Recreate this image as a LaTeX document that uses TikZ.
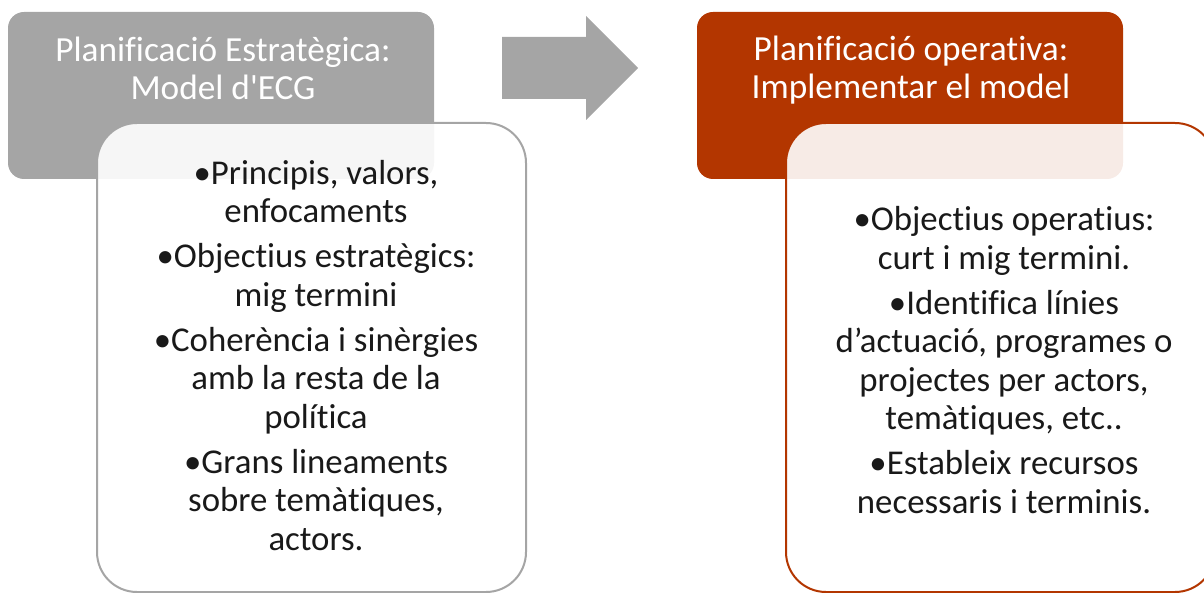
\documentclass[tikz,border=0pt]{standalone}
\usepackage{fontspec}
\setmainfont{Carlito}[Ligatures={TeXOff,CommonOff}]
\definecolor{accgray}{HTML}{A5A5A5}
\definecolor{accred}{HTML}{B33600}
\begin{document}
\begin{tikzpicture}[x=1pt,y=-1pt,
  headbox/.style={rectangle, rounded corners=16pt, minimum width=426pt, minimum height=167pt, inner sep=0pt},
  bodybox/.style={rectangle, rounded corners=40pt, minimum width=429pt, minimum height=469pt, inner sep=0pt, line width=2pt, fill=white, fill opacity=0.9},
  headtext/.style={text=white, align=center, anchor=base, inner sep=0pt, font=\fontsize{35.3}{38}\selectfont},
  bodytext/.style={text=black!90, align=center, anchor=base, inner sep=0pt, font=\fontsize{34.8}{38.5}\selectfont}
]
\useasboundingbox (0,0) rectangle (1204,593);
\clip (0,0) rectangle (1204,593);
% header boxes
\node[headbox, fill=accgray] (hleft) at (221,95.5) {};
\node[headbox, fill=accred] (hright) at (910,95.5) {};
% arrow
\fill[accgray] (502,37) -- (586,37) -- (586,16) -- (638,68) -- (586,120) -- (586,99) -- (502,99) -- cycle;
% body boxes
\node[bodybox, draw=accgray] (bleft) at (311.5,357.5) {};
\node[bodybox, draw=accred] (bright) at (1000.5,357.5) {};
% header texts (anchor = baseline of last line)
\node[headtext] (tleft) at (223,100) {Planificació Estratègica:\\Model d'ECG};
\node[headtext] (tright) at (911,99) {Planificació operativa:\\Implementar el model};
% body texts
\node[bodytext] (xleft) at (316,550) {•Principis, valors,\\enfocaments\\[6.5pt]
•Objectius estratègics:\\mig termini\\[6.5pt]
•Coherència i sinèrgies\\amb la resta de la\\política\\[6.5pt]
•Grans lineaments\\sobre temàtiques,\\actors.};
\node[bodytext] (xright) at (1004,513) {•Objectius operatius:\\curt i mig termini.\\[6.5pt]
•Identifica línies\\d’actuació, programes o\\projectes per actors,\\temàtiques, etc..\\[6.5pt]
•Estableix recursos\\necessaris i terminis.};
\end{tikzpicture}
\end{document}
